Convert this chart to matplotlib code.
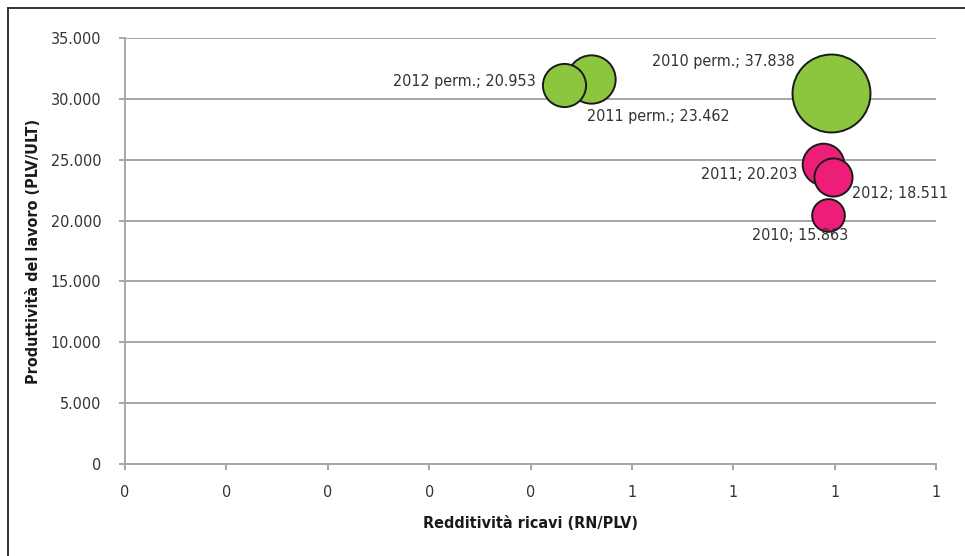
import matplotlib
matplotlib.use("Agg")
import matplotlib.pyplot as plt
import numpy as np
from matplotlib.ticker import FuncFormatter, MultipleLocator
from matplotlib.lines import Line2D

plt.rcParams['font.family'] = ['DejaVu Sans']
plt.rcParams['font.stretch'] = 'condensed'

# one bubble per series: name, redditività, produttività, bubble size
names = ["2010", "2011", "2012", "2010 perm.", "2011 perm.", "2012 perm."]
redditivita = [0.693, 0.689, 0.698, 0.696, 0.460, 0.433]
produttivita = [20480, 24670, 23560, 30510, 31660, 31140]
dimensione = [15863, 20203, 18511, 37838, 23462, 20953]
colori = ["#ED1E79", "#ED1E79", "#ED1E79", "#8CC63F", "#8CC63F", "#8CC63F"]

# label placement (offset in pixels, alignment)
label_pos = {
    "2010": ((-27, -21), "center"),
    "2011": ((-26, -11), "right"),
    "2012": ((19, -16), "left"),
    "2010 perm.": ((-36, 31), "right"),
    "2011 perm.": ((-4, -38), "left"),
    "2012 perm.": ((-28, 3), "right"),
}


def it_num(v):
    return f"{int(round(v)):,}".replace(",", ".")


fig = plt.figure(figsize=(9.65, 5.56), dpi=100)
ax = fig.add_axes([125 / 965, 92 / 556, 811 / 965, 426 / 556])

# bubble width proportional to size
dpi = fig.dpi
for x, y, s, c in zip(redditivita, produttivita, dimensione, colori):
    diam_pt = 2.06 * s / 1000 * 72 / dpi
    ax.scatter([x], [y], s=diam_pt ** 2, color=c, edgecolor="#1a1a1a",
               linewidth=1.4, zorder=3)

for n, x, y, s in zip(names, redditivita, produttivita, dimensione):
    off, ha = label_pos[n]
    ax.annotate(f"{n}; {it_num(s)}", (x, y), xytext=off,
                textcoords="offset pixels", ha=ha, va="center",
                fontsize=11.5, color="#333333", zorder=4)

ax.set_xlim(0, 0.8)
ax.set_ylim(0, 35000)
ax.xaxis.set_major_locator(MultipleLocator(0.1))
ax.yaxis.set_major_locator(MultipleLocator(5000))
ax.xaxis.set_major_formatter(FuncFormatter(lambda v, p: str(int(np.floor(v + 0.5 + 1e-9)))))
ax.yaxis.set_major_formatter(FuncFormatter(lambda v, p: it_num(v)))

ax.grid(axis="y", color="#a6a6a6", linewidth=1.4, zorder=0)
ax.set_axisbelow(True)
for side in ["top", "right"]:
    ax.spines[side].set_visible(False)
for side in ["left", "bottom"]:
    ax.spines[side].set_color("#a6a6a6")
    ax.spines[side].set_linewidth(1.4)
ax.tick_params(colors="#a6a6a6", labelcolor="#333333", labelsize=11.5,
               length=4, width=1.4)
ax.tick_params(axis="x", pad=11)
ax.tick_params(axis="y", pad=13)

ax.set_xlabel("Redditività ricavi (RN/PLV)", fontsize=11.5, fontweight="bold",
              color="#1a1a1a", labelpad=12)
ax.set_ylabel("Produttività del lavoro (PLV/ULT)", fontsize=11.5, fontweight="bold",
              color="#1a1a1a", labelpad=7)

# chart frame
fig.add_artist(Line2D([7.5 / 965, 7.5 / 965], [0, 1 - 8 / 556], color="#333333",
                      linewidth=1.4, transform=fig.transFigure))
fig.add_artist(Line2D([7.5 / 965, 1], [1 - 8 / 556, 1 - 8 / 556], color="#333333",
                      linewidth=1.4, transform=fig.transFigure))

fig.savefig("out.png", dpi=100)
